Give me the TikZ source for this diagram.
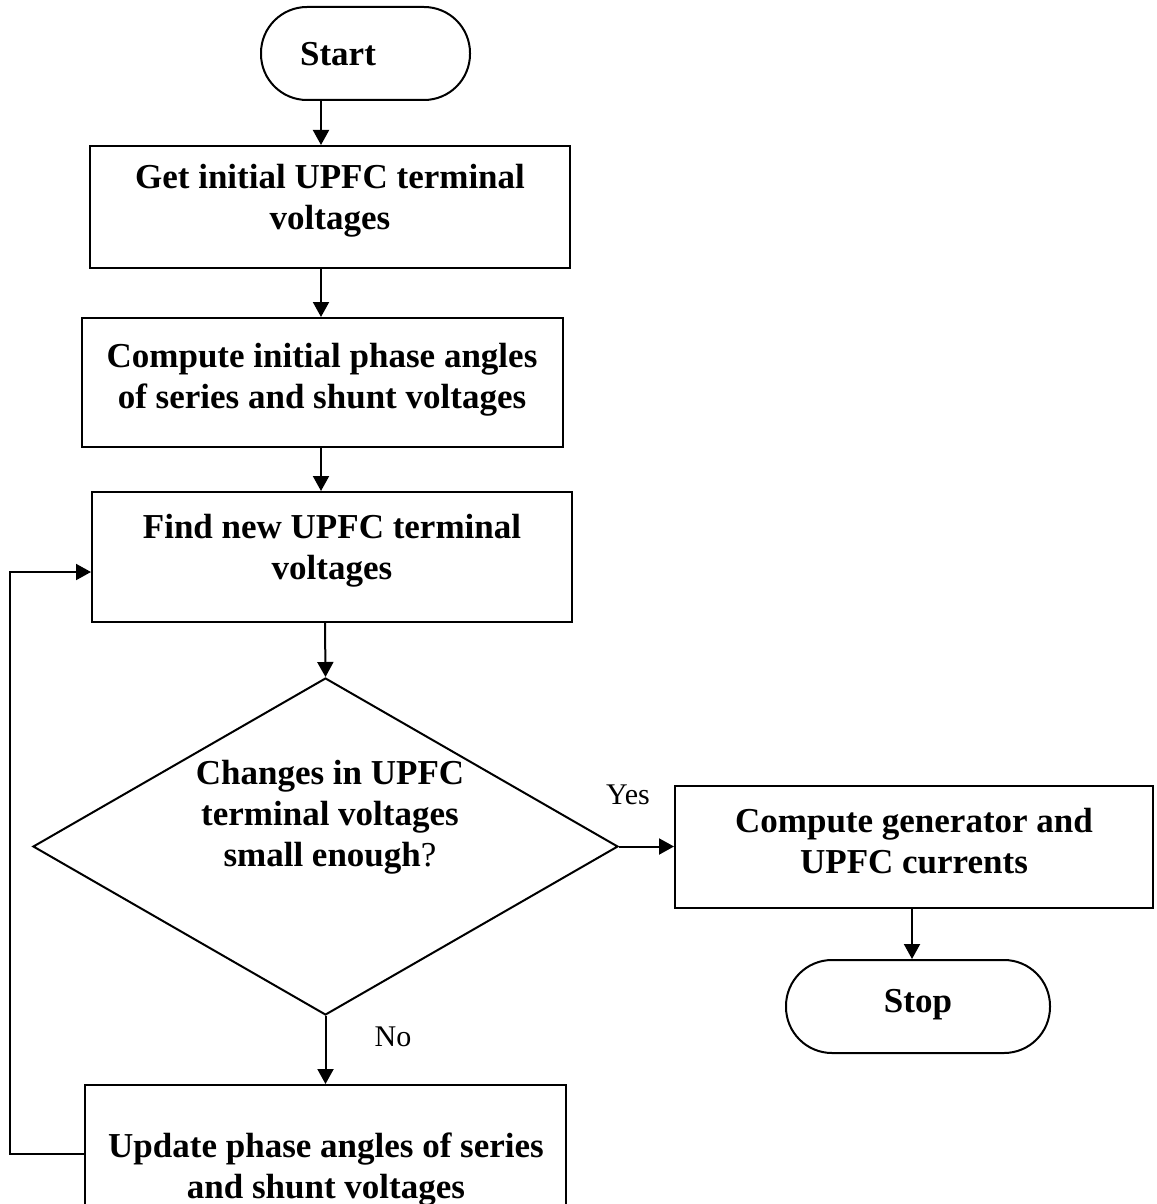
\documentclass[tikz,border=0pt]{standalone}
\usepackage{fontspec}
\setmainfont{Liberation Serif}
\usetikzlibrary{arrows.meta,fit,shapes.geometric}
\begin{document}
\begin{tikzpicture}[x=0.5pt,y=-0.5pt,
  line width=1pt,
  box/.style={draw, rectangle, inner sep=0pt},
  term/.style={draw, rectangle, rounded corners=23pt, inner sep=0pt},
  decision/.style={draw, diamond, inner sep=0pt,
    minimum width=292.5pt, minimum height=168.5pt},
  steptext/.style={font=\fontsize{17.5}{20.5}\selectfont\bfseries,
    align=center, inner sep=0pt},
  answer/.style={font=\fontsize{15}{18}\selectfont, inner sep=0pt},
  flow/.style={-{Triangle[length=7.5pt,width=8pt]}}
]
\useasboundingbox (0,0) rectangle (1156,1204);
\clip (0,0) rectangle (1156,1204);

% vertical axes of the connectors
\coordinate (axA) at (321,0);
\coordinate (axB) at (325,0);
\coordinate (axC) at (912,0);
\coordinate (loopin) at (0,572);
\coordinate (loopout) at (0,1154);

% shapes
\node[term, fit={(261,7) (470,100)}] (start) {};
\node[box, fit={(90,146) (570,268)}] (b1) {};
\node[box, fit={(82,318) (563,447)}] (b2) {};
\node[box, fit={(92,492) (572,622)}] (b3) {};
\node[decision] (dec) at (325.5,846.5) {};
\node[box, fit={(675,786) (1153,908)}] (b4) {};
\node[term, fit={(786,960) (1050,1053)}] (stop) {};
\node[box, fit={(85,1085) (566,1230)}] (b5) {};

% texts
\node[steptext] (tstart) at (338,54) {Start};
\node[steptext] (t1) at (330,201) {Get initial UPFC terminal\\voltages};
\node[steptext] (t2) at (322,380) {Compute initial phase angles\\of series and shunt voltages};
\node[steptext] (t3) at (332,551) {Find new UPFC terminal\\voltages};
\node[steptext] (tdec) at (330,817) {Changes in UPFC\\terminal voltages\\small enough{\mdseries ?}};
\node[steptext] (t4) at (914,841) {Compute generator and\\UPFC currents};
\node[steptext] (tstop) at (918,1005) {Stop};
\node[steptext] (t5) at (326,1170) {Update phase angles of series\\and shunt voltages};
\node[answer] (tyes) at (628,795) {Yes};
\node[answer] (tno) at (393,1037) {No};

% connectors
\draw[flow] (start.south -| axA) -- (b1.north -| axA);
\draw[flow] (b1.south -| axA) -- (b2.north -| axA);
\draw[flow] (b2.south -| axA) -- (b3.north -| axA);
\draw[flow] (b3.south -| axB) -- (dec.north);
\draw[flow] (dec.east) -- (dec.east -| b4.west);
\draw[flow] (b4.south -| axC) -- (stop.north -| axC);
\draw[flow] (dec.south) -- (b5.north -| dec.south);
\draw[flow] (b5.west |- loopout) -| (10,572) -- (b3.west |- loopin);
\end{tikzpicture}
\end{document}
